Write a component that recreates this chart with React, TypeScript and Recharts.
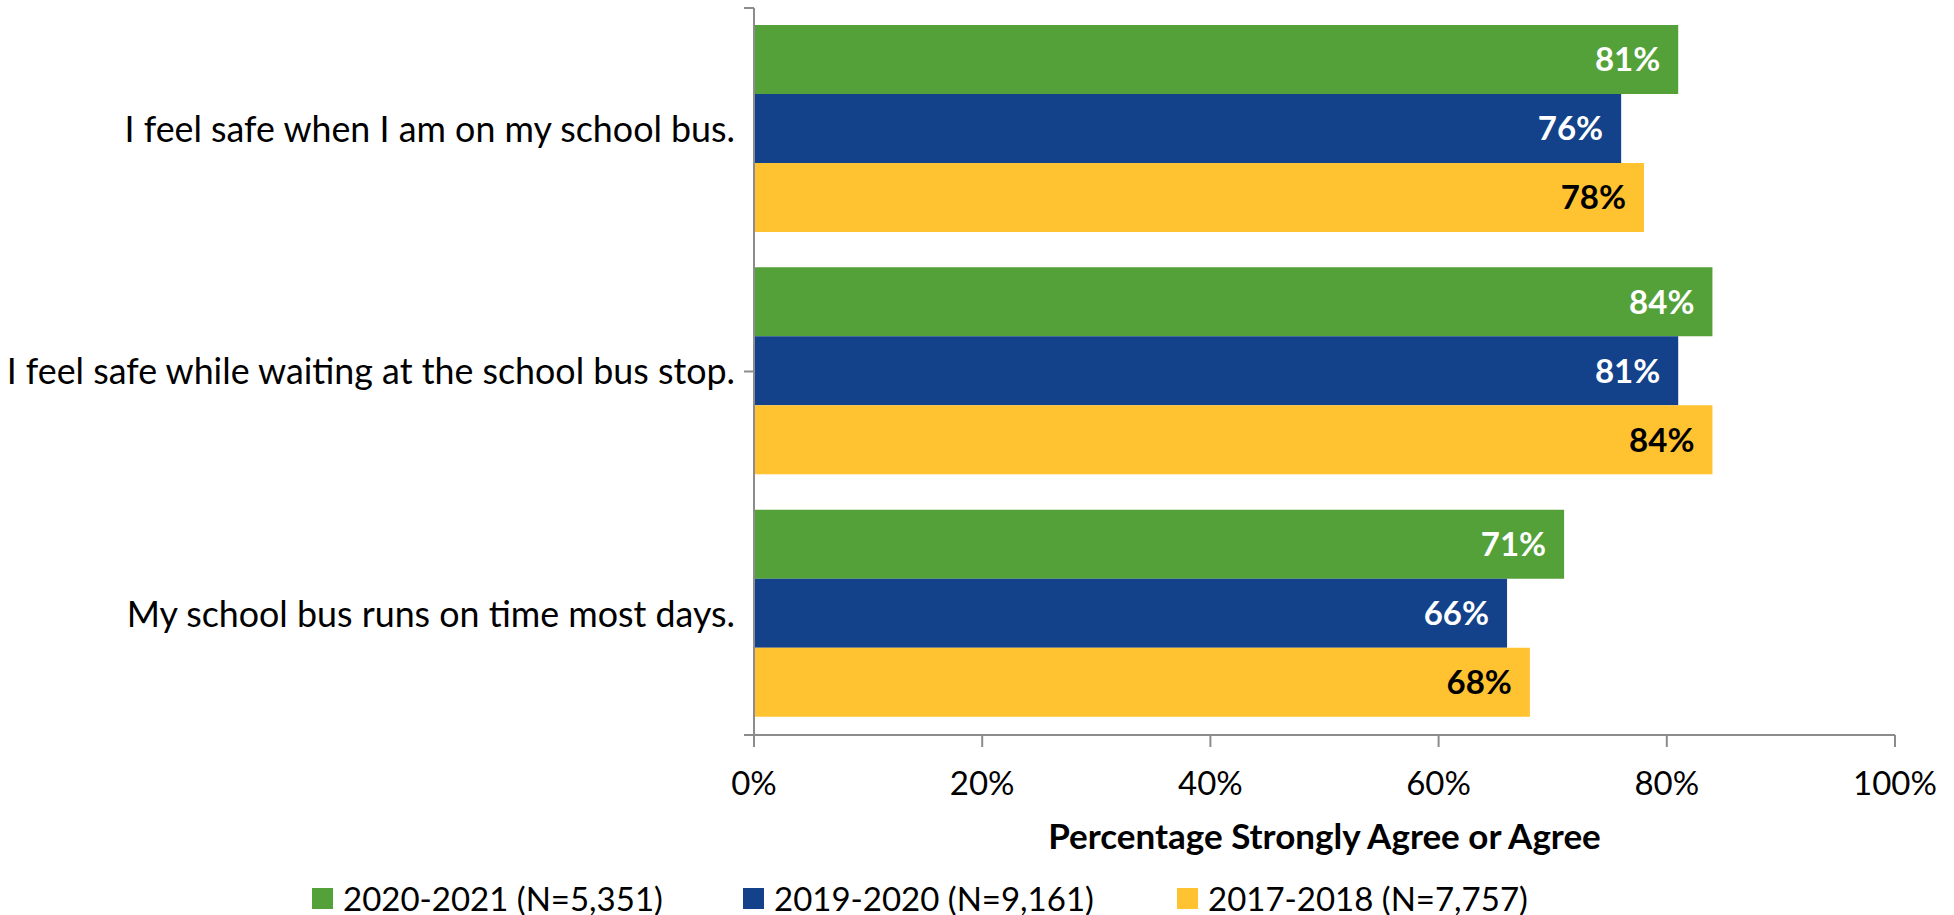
import React from 'react';
import { BarChart, Bar, XAxis, YAxis, LabelList, Legend } from 'recharts';

const categories = [
  'I feel safe when I am on my school bus.',
  'I feel safe while waiting at the school bus stop.',
  'My school bus runs on time most days.',
];
const series2020 = [81, 84, 71];
const series2019 = [76, 81, 66];
const series2017 = [78, 84, 68];
const seriesNames = ['2020-2021 (N=5,351)', '2019-2020 (N=9,161)', '2017-2018 (N=7,757)'];
const seriesColors = ['#54A139', '#13428A', '#FFC231'];
const labelColors = ['#FFFFFF', '#FFFFFF', '#000000'];
const xTicks = [0, 20, 40, 60, 80, 100];
const boundaryTicks = [0, 1, 2, 3];
const axisTitle = 'Percentage Strongly Agree or Agree';

const data = categories.map((c, i) => ({
  name: c,
  s0: series2020[i],
  s1: series2019[i],
  s2: series2017[i],
}));

const FONT = 'Lato, "Open Sans", sans-serif';

const LegendContent = () => (
  <div style={{ display: 'flex', fontFamily: FONT, fontSize: 33, color: '#000' }}>
    {seriesNames.map((n, i) => (
      <div key={n} style={{ width: i === 0 ? 431 : 434, display: 'flex', alignItems: 'center' }}>
        <span style={{ display: 'inline-block', width: 21, height: 21, background: seriesColors[i], marginRight: 10 }} />
        <span>{n}</span>
      </div>
    ))}
  </div>
);

export default function App() {
  return (
    <div style={{ position: 'absolute', left: 0, top: 0, width: 1954, height: 915, background: '#fff' }}>
      <BarChart
        width={1954}
        height={915}
        data={data}
        layout="vertical"
        margin={{ top: 8, right: 59, bottom: 60, left: 0 }}
        barCategoryGap="7%"
        barGap={0}
      >
        <XAxis
          type="number"
          domain={[0, 100]}
          ticks={xTicks}
          tickFormatter={(v: number) => `${v}%`}
          tickSize={12}
          tickMargin={25}
          height={120}
          stroke="#8C8C8C"
          strokeWidth={2}
          tick={{ fill: '#000', fontSize: 33, fontFamily: FONT }}
          label={{
            value: axisTitle,
            position: 'insideBottom',
            offset: 6,
            fill: '#000',
            fontSize: 35,
            fontWeight: 'bold',
            fontFamily: FONT,
          }}
        />
        <YAxis
          yAxisId="bounds"
          type="number"
          domain={[0, 3]}
          ticks={boundaryTicks}
          width={10}
          tickSize={10}
          tickMargin={0}
          tickFormatter={() => ''}
          tick={{ fontSize: 1 }}
          stroke="#8C8C8C"
          strokeWidth={2}
        />
        <YAxis
          yAxisId="cat"
          type="category"
          dataKey="name"
          width={744}
          tickSize={0}
          tickMargin={9}
          axisLine={false}
          tickLine={false}
          tick={{ fill: '#000', fontSize: 35.8, fontFamily: FONT }}
        />
        <Legend
          layout="horizontal"
          verticalAlign="middle"
          align="center"
          wrapperStyle={{ top: 878, left: 312, width: 1400 }}
          content={<LegendContent />}
        />
        {['s0', 's1', 's2'].map((k, i) => (
          <Bar key={k} yAxisId="cat" dataKey={k} name={seriesNames[i]} fill={seriesColors[i]} isAnimationActive={false}>
            <LabelList
              dataKey={k}
              position="insideRight"
              offset={18}
              formatter={(v: number) => `${v}%`}
              fill={labelColors[i]}
              fontSize={33}
              fontWeight="bold"
              fontFamily={FONT}
            />
          </Bar>
        ))}
      </BarChart>
    </div>
  );
}
